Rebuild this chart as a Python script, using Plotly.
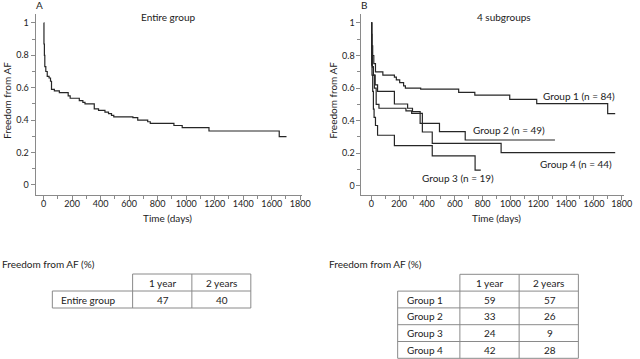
import plotly.graph_objects as go

# ---------------- data ----------------
entire_t = [0, 2, 5, 8, 15, 25, 38, 48, 55, 75, 110, 172, 186, 250, 275, 290, 355, 385, 430, 455,
            476, 492, 626, 660, 730, 748, 914, 972, 1160, 1653, 1704]
entire_s = [1, 0.87, 0.80, 0.73, 0.70, 0.67, 0.66, 0.64, 0.59, 0.58, 0.57, 0.55, 0.535, 0.52, 0.51,
            0.50, 0.47, 0.46, 0.45, 0.44, 0.43, 0.42, 0.415, 0.40, 0.39, 0.38, 0.367, 0.354, 0.333,
            0.298, 0.298]

g1_t = [0, 2, 5, 10, 18, 30, 83, 166, 180, 204, 232, 245, 355, 628, 744, 995, 1189, 1699, 1753]
g1_s = [1, 0.93, 0.86, 0.80, 0.75, 0.70, 0.68, 0.667, 0.65, 0.633, 0.613, 0.60, 0.593, 0.574,
        0.556, 0.531, 0.504, 0.443, 0.443]

g2_t = [0, 3, 8, 15, 28, 45, 166, 261, 296, 351, 490, 675, 1320]
g2_s = [1, 0.80, 0.73, 0.68, 0.62, 0.58, 0.502, 0.476, 0.455, 0.383, 0.332, 0.281, 0.281]

g3_t = [0, 2, 5, 10, 15, 20, 30, 45, 166, 438, 746, 787]
g3_s = [1, 0.74, 0.68, 0.58, 0.47, 0.42, 0.37, 0.31, 0.246, 0.183, 0.096, 0.096]

g4_t = [0, 3, 8, 15, 22, 35, 55, 249, 290, 367, 438, 933, 1753]
g4_s = [1, 0.82, 0.73, 0.68, 0.60, 0.50, 0.476, 0.46, 0.445, 0.33, 0.26, 0.203, 0.203]

group_labels = ["Group 1 (n = 84)", "Group 2 (n = 49)", "Group 3 (n = 19)", "Group 4 (n = 44)"]

y_ticks = [0, 0.2, 0.4, 0.6, 0.8, 1]
y_ticktext = ["0", "0.2", "0.4", "0.6", "0.8", "1"]
x_ticks = [0, 200, 400, 600, 800, 1000, 1200, 1400, 1600, 1800]

table_header = ["1 year", "2 years"]
tableA_rows = ["Entire group"]
tableA_1y = [47]
tableA_2y = [40]
tableB_rows = ["Group 1", "Group 2", "Group 3", "Group 4"]
tableB_1y = [59, 33, 24, 42]
tableB_2y = [57, 26, 9, 28]

# ---------------- figure ----------------
W, H = 640, 359
FONT = "Lato"
TXT = "#222222"
AX = "#8a8a8a"
LINE = "#262626"


def px(x):
    return x / W


def py(y):
    return 1 - y / H


fig = go.Figure()

fig.add_trace(go.Scatter(x=entire_t, y=entire_s, mode="lines", line_shape="hv",
                         line=dict(color=LINE, width=1.2), xaxis="x", yaxis="y",
                         showlegend=False, hoverinfo="skip"))
for t, s in [(g1_t, g1_s), (g2_t, g2_s), (g3_t, g3_s), (g4_t, g4_s)]:
    fig.add_trace(go.Scatter(x=t, y=s, mode="lines", line_shape="hv",
                             line=dict(color=LINE, width=1.2), xaxis="x2", yaxis="y2",
                             showlegend=False, hoverinfo="skip"))

common_x = dict(range=[-57, 1814], tickvals=x_ticks, ticks="outside", ticklen=4, tickcolor=AX,
                showline=True, linecolor=AX, linewidth=1, showgrid=False, zeroline=False,
                ticklabelstandoff=-4,
                tickfont=dict(family=FONT, size=9, color=TXT),
                minor=dict(dtick=100, tick0=0, ticks="outside", ticklen=3, tickcolor=AX, showgrid=False))
common_y = dict(range=[-0.062, 1.055], tickvals=y_ticks, ticktext=y_ticktext, ticks="outside",
                ticklen=4, tickcolor=AX, showline=True, linecolor=AX, linewidth=1, showgrid=False,
                zeroline=False, tickfont=dict(family=FONT, size=9, color=TXT),
                minor=dict(dtick=0.1, tick0=0, ticks="outside", ticklen=3, tickcolor=AX, showgrid=False))

fig.update_layout(
    width=W, height=H, margin=dict(l=0, r=0, t=0, b=0),
    paper_bgcolor="white", plot_bgcolor="white",
    xaxis=dict(domain=[px(36), px(306)], anchor="y", **common_x),
    yaxis=dict(domain=[py(195), py(14)], anchor="x", **common_y),
    xaxis2=dict(domain=[px(366), px(632)], anchor="y2", **{**common_x, "range": [-71, 1817]}),
    yaxis2=dict(domain=[py(195), py(14)], anchor="x2", **{**common_y, "range": [-0.057, 1.055]}),
)

ann = []


def text(x, y, s, xanchor="center", size=10, **kw):
    ann.append(dict(x=px(x), y=py(y), xref="paper", yref="paper", text=s, showarrow=False,
                    xanchor=xanchor, yanchor="middle", font=dict(family=FONT, size=size, color=TXT), **kw))


# panel titles and axis titles
text(34, 5, "A", xanchor="left")
text(364, 5, "B", xanchor="left")
text(170, 17, "Entire group")
text(510, 17, "4 subgroups")
text(170, 218, "Time (days)")
text(503, 218, "Time (days)")
text(7, 100, "Freedom from AF", textangle=-90)
text(337, 100, "Freedom from AF", textangle=-90)

# group labels
text(548, 96, group_labels[0], xanchor="left")
text(477, 130, group_labels[1], xanchor="left")
text(425, 178, group_labels[2], xanchor="left")
text(545, 164, group_labels[3], xanchor="left")

shapes = []


def hline(x0, x1, y):
    shapes.append(dict(type="line", xref="paper", yref="paper", x0=px(x0), x1=px(x1), y0=py(y), y1=py(y),
                       line=dict(color=AX, width=1)))


def vline(x, y0, y1):
    shapes.append(dict(type="line", xref="paper", yref="paper", x0=px(x), x1=px(x), y0=py(y0), y1=py(y1),
                       line=dict(color=AX, width=1)))


def table(x0, c1, c2, x1, ytop, rowh, rows, v1, v2, title_x):
    n = len(rows)
    text(title_x, 264, "Freedom from AF (%)", xanchor="left")
    hline(c1, x1, ytop)
    for i in range(n + 1):
        hline(x0, x1, ytop + rowh * (i + 1))
    vline(x0, ytop + rowh, ytop + rowh * (n + 1))
    for xx in (c1, c2, x1):
        vline(xx, ytop, ytop + rowh * (n + 1))
    text((c1 + c2) / 2, ytop + rowh / 2, table_header[0])
    text((c2 + x1) / 2, ytop + rowh / 2, table_header[1])
    for i, r in enumerate(rows):
        yc = ytop + rowh * (i + 1.5)
        text(x0 + 7, yc, r, xanchor="left")
        text((c1 + c2) / 2 + 1, yc, str(v1[i]))
        text((c2 + x1) / 2 + 1, yc, str(v2[i]))


table(53, 134.3, 194.3, 254, 274, 17, tableA_rows, tableA_1y, tableA_2y, 0)
table(402.7, 465.7, 525.7, 585.7, 274.3, 16.8, tableB_rows, tableB_1y, tableB_2y, 331.5)

fig.update_layout(annotations=ann, shapes=shapes)
fig.write_html("out.html", config={"displayModeBar": False},
               post_script="document.body.style.margin='0';document.body.style.overflow='hidden';")
